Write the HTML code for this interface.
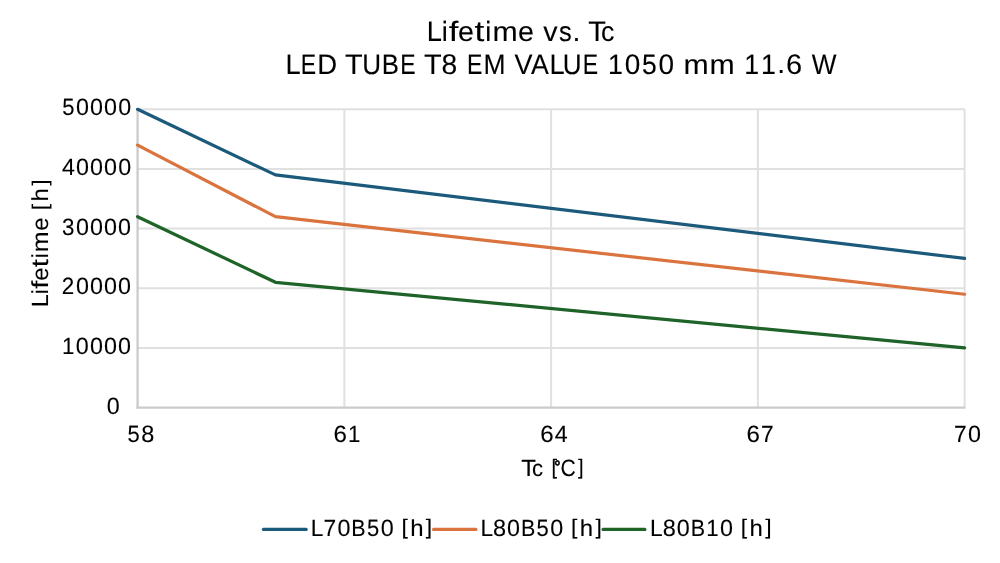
<!DOCTYPE html>
<html><head><meta charset="utf-8"><title>Lifetime vs. Tc</title><style>
html,body{margin:0;padding:0;background:#fff;overflow:hidden;}
svg{display:block;will-change:transform;}
text{font-family:"Liberation Sans", sans-serif;fill:#000;text-rendering:geometricPrecision;stroke:#000;stroke-width:0.1px;white-space:pre;}
</style></head><body>
<svg width="1000" height="563" viewBox="0 0 1000 563">
<rect width="1000" height="563" fill="#fff"/>
<g stroke="#e0e0e0" stroke-width="2.0" fill="none">
<line x1="137.6" y1="347.94" x2="964.64" y2="347.94"/>
<line x1="137.6" y1="288.28" x2="964.64" y2="288.28"/>
<line x1="137.6" y1="228.62" x2="964.64" y2="228.62"/>
<line x1="137.6" y1="168.96" x2="964.64" y2="168.96"/>
<line x1="137.6" y1="109.30" x2="964.64" y2="109.30"/>
<line x1="344.36" y1="109.30" x2="344.36" y2="407.6"/>
<line x1="551.12" y1="109.30" x2="551.12" y2="407.6"/>
<line x1="757.88" y1="109.30" x2="757.88" y2="407.6"/>
<line x1="964.64" y1="109.30" x2="964.64" y2="407.6"/>
</g>
<g stroke="#cbcbcb" stroke-width="2.3" fill="none">
<line x1="137.6" y1="109.30" x2="137.6" y2="408.6"/>
<line x1="136.6" y1="407.6" x2="965.44" y2="407.6"/>
</g>
<g fill="none" stroke-width="3.2" stroke-linejoin="round" stroke-linecap="round">
<polyline points="137.60,109.30 275.44,174.93 964.64,258.45" stroke="#1b5a7a"/>
<polyline points="137.60,145.10 275.44,216.69 964.64,294.25" stroke="#da733d"/>
<polyline points="137.60,216.69 275.44,282.31 964.64,347.94" stroke="#1e6327"/>
</g>
<g stroke-width="3.2" stroke-linecap="round">
<line x1="263.4" y1="529.4" x2="306.2" y2="529.4" stroke="#1b5a7a"/>
<line x1="433.6" y1="529.4" x2="475.9" y2="529.4" stroke="#da733d"/>
<line x1="603.1" y1="529.4" x2="644.9" y2="529.4" stroke="#1e6327"/>
</g>
<text stroke-width="0"><tspan x="426.73" y="41.00" font-size="28.13" textLength="15.20" lengthAdjust="spacingAndGlyphs">L</tspan><tspan x="441.84" y="41.00" font-size="27.83" textLength="6.03" lengthAdjust="spacingAndGlyphs">i</tspan><tspan x="448.66" y="41.00" font-size="27.87" textLength="9.69" lengthAdjust="spacingAndGlyphs">f</tspan><tspan x="458.14" y="41.09" font-size="27.81" textLength="15.93" lengthAdjust="spacingAndGlyphs">e</tspan><tspan x="474.40" y="40.77" font-size="28.50" textLength="9.83" lengthAdjust="spacingAndGlyphs">t</tspan><tspan x="485.31" y="41.00" font-size="27.83" textLength="6.03" lengthAdjust="spacingAndGlyphs">i</tspan><tspan x="492.43" y="41.00" font-size="27.64" textLength="25.18" lengthAdjust="spacingAndGlyphs">m</tspan><tspan x="518.13" y="41.09" font-size="27.81" textLength="15.93" lengthAdjust="spacingAndGlyphs">e</tspan><tspan> </tspan><tspan x="543.32" y="41.00" font-size="27.51" textLength="14.35" lengthAdjust="spacingAndGlyphs">v</tspan><tspan x="559.08" y="41.09" font-size="27.86" textLength="12.73" lengthAdjust="spacingAndGlyphs">s</tspan><tspan x="572.44" y="40.84" font-size="27.83" textLength="7.91" lengthAdjust="spacingAndGlyphs">.</tspan><tspan> </tspan><tspan x="588.35" y="41.00" font-size="28.13" textLength="17.68" lengthAdjust="spacingAndGlyphs">T</tspan><tspan x="601.12" y="41.09" font-size="27.81" textLength="13.31" lengthAdjust="spacingAndGlyphs">c</tspan></text>
<text stroke-width="0"><tspan x="285.58" y="73.50" font-size="28.13" textLength="15.20" lengthAdjust="spacingAndGlyphs">L</tspan><tspan x="300.73" y="73.50" font-size="28.13" textLength="15.36" lengthAdjust="spacingAndGlyphs">E</tspan><tspan x="317.14" y="73.50" font-size="28.13" textLength="19.85" lengthAdjust="spacingAndGlyphs">D</tspan><tspan> </tspan><tspan x="344.96" y="73.50" font-size="28.13" textLength="17.68" lengthAdjust="spacingAndGlyphs">T</tspan><tspan x="362.19" y="73.59" font-size="28.26" textLength="18.84" lengthAdjust="spacingAndGlyphs">U</tspan><tspan x="381.81" y="73.50" font-size="28.13" textLength="17.21" lengthAdjust="spacingAndGlyphs">B</tspan><tspan x="400.25" y="73.50" font-size="28.13" textLength="15.36" lengthAdjust="spacingAndGlyphs">E</tspan><tspan> </tspan><tspan x="424.04" y="73.50" font-size="28.13" textLength="17.68" lengthAdjust="spacingAndGlyphs">T</tspan><tspan x="441.56" y="73.59" font-size="28.35" textLength="15.71" lengthAdjust="spacingAndGlyphs">8</tspan><tspan> </tspan><tspan x="467.01" y="73.50" font-size="28.13" textLength="15.36" lengthAdjust="spacingAndGlyphs">E</tspan><tspan x="483.51" y="73.50" font-size="28.13" textLength="22.05" lengthAdjust="spacingAndGlyphs">M</tspan><tspan> </tspan><tspan x="514.50" y="73.50" font-size="28.13" textLength="18.01" lengthAdjust="spacingAndGlyphs">V</tspan><tspan x="531.05" y="73.50" font-size="28.13" textLength="17.84" lengthAdjust="spacingAndGlyphs">A</tspan><tspan x="549.41" y="73.50" font-size="28.13" textLength="15.20" lengthAdjust="spacingAndGlyphs">L</tspan><tspan x="562.82" y="73.59" font-size="28.26" textLength="18.84" lengthAdjust="spacingAndGlyphs">U</tspan><tspan x="582.67" y="73.50" font-size="28.13" textLength="15.36" lengthAdjust="spacingAndGlyphs">E</tspan><tspan> </tspan><tspan x="608.06" y="73.50" font-size="28.13" textLength="14.87" lengthAdjust="spacingAndGlyphs">1</tspan><tspan x="624.72" y="73.59" font-size="28.35" textLength="15.57" lengthAdjust="spacingAndGlyphs">0</tspan><tspan x="641.94" y="73.59" font-size="28.26" textLength="14.70" lengthAdjust="spacingAndGlyphs">5</tspan><tspan x="658.50" y="73.59" font-size="28.35" textLength="15.57" lengthAdjust="spacingAndGlyphs">0</tspan><tspan> </tspan><tspan x="683.60" y="73.50" font-size="27.64" textLength="25.18" lengthAdjust="spacingAndGlyphs">m</tspan><tspan x="709.46" y="73.50" font-size="27.64" textLength="25.18" lengthAdjust="spacingAndGlyphs">m</tspan><tspan> </tspan><tspan x="744.23" y="73.50" font-size="28.13" textLength="14.87" lengthAdjust="spacingAndGlyphs">1</tspan><tspan x="761.12" y="73.50" font-size="28.13" textLength="14.87" lengthAdjust="spacingAndGlyphs">1</tspan><tspan x="777.37" y="73.36" font-size="28.13" textLength="7.91" lengthAdjust="spacingAndGlyphs">.</tspan><tspan x="785.94" y="73.59" font-size="28.35" textLength="16.11" lengthAdjust="spacingAndGlyphs">6</tspan><tspan> </tspan><tspan x="811.64" y="73.50" font-size="28.13" textLength="24.74" lengthAdjust="spacingAndGlyphs">W</tspan></text>
<text><tspan x="62.20" y="115.27" font-size="23.52" textLength="12.24" lengthAdjust="spacingAndGlyphs">5</tspan><tspan x="75.99" y="115.27" font-size="23.60" textLength="12.96" lengthAdjust="spacingAndGlyphs">0</tspan><tspan x="90.05" y="115.27" font-size="23.60" textLength="12.96" lengthAdjust="spacingAndGlyphs">0</tspan><tspan x="104.11" y="115.27" font-size="23.60" textLength="12.96" lengthAdjust="spacingAndGlyphs">0</tspan><tspan x="118.17" y="115.27" font-size="23.60" textLength="12.96" lengthAdjust="spacingAndGlyphs">0</tspan></text>
<text><tspan x="61.94" y="174.86" font-size="23.42" textLength="12.95" lengthAdjust="spacingAndGlyphs">4</tspan><tspan x="76.00" y="174.93" font-size="23.60" textLength="12.96" lengthAdjust="spacingAndGlyphs">0</tspan><tspan x="90.06" y="174.93" font-size="23.60" textLength="12.96" lengthAdjust="spacingAndGlyphs">0</tspan><tspan x="104.12" y="174.93" font-size="23.60" textLength="12.96" lengthAdjust="spacingAndGlyphs">0</tspan><tspan x="118.18" y="174.93" font-size="23.60" textLength="12.96" lengthAdjust="spacingAndGlyphs">0</tspan></text>
<text><tspan x="62.12" y="234.59" font-size="23.60" textLength="12.45" lengthAdjust="spacingAndGlyphs">3</tspan><tspan x="75.90" y="234.59" font-size="23.60" textLength="12.96" lengthAdjust="spacingAndGlyphs">0</tspan><tspan x="89.96" y="234.59" font-size="23.60" textLength="12.96" lengthAdjust="spacingAndGlyphs">0</tspan><tspan x="104.02" y="234.59" font-size="23.60" textLength="12.96" lengthAdjust="spacingAndGlyphs">0</tspan><tspan x="118.08" y="234.59" font-size="23.60" textLength="12.96" lengthAdjust="spacingAndGlyphs">0</tspan></text>
<text><tspan x="61.81" y="294.18" font-size="23.49" textLength="12.48" lengthAdjust="spacingAndGlyphs">2</tspan><tspan x="75.93" y="294.25" font-size="23.60" textLength="12.96" lengthAdjust="spacingAndGlyphs">0</tspan><tspan x="89.99" y="294.25" font-size="23.60" textLength="12.96" lengthAdjust="spacingAndGlyphs">0</tspan><tspan x="104.06" y="294.25" font-size="23.60" textLength="12.96" lengthAdjust="spacingAndGlyphs">0</tspan><tspan x="118.12" y="294.25" font-size="23.60" textLength="12.96" lengthAdjust="spacingAndGlyphs">0</tspan></text>
<text><tspan x="61.95" y="353.84" font-size="23.42" textLength="12.38" lengthAdjust="spacingAndGlyphs">1</tspan><tspan x="75.83" y="353.91" font-size="23.60" textLength="12.96" lengthAdjust="spacingAndGlyphs">0</tspan><tspan x="89.89" y="353.91" font-size="23.60" textLength="12.96" lengthAdjust="spacingAndGlyphs">0</tspan><tspan x="103.95" y="353.91" font-size="23.60" textLength="12.96" lengthAdjust="spacingAndGlyphs">0</tspan><tspan x="118.01" y="353.91" font-size="23.60" textLength="12.96" lengthAdjust="spacingAndGlyphs">0</tspan></text>
<text><tspan x="106.72" y="413.57" font-size="23.60" textLength="12.96" lengthAdjust="spacingAndGlyphs">0</tspan></text>
<text><tspan x="127.51" y="442.17" font-size="23.52" textLength="12.24" lengthAdjust="spacingAndGlyphs">5</tspan><tspan x="141.24" y="442.17" font-size="23.60" textLength="13.08" lengthAdjust="spacingAndGlyphs">8</tspan></text>
<text><tspan x="333.40" y="442.17" font-size="23.60" textLength="13.41" lengthAdjust="spacingAndGlyphs">6</tspan><tspan x="347.89" y="442.10" font-size="23.42" textLength="12.38" lengthAdjust="spacingAndGlyphs">1</tspan></text>
<text><tspan x="540.35" y="442.17" font-size="23.60" textLength="13.41" lengthAdjust="spacingAndGlyphs">6</tspan><tspan x="554.65" y="442.10" font-size="23.42" textLength="12.95" lengthAdjust="spacingAndGlyphs">4</tspan></text>
<text><tspan x="746.57" y="442.17" font-size="23.60" textLength="13.41" lengthAdjust="spacingAndGlyphs">6</tspan><tspan x="760.97" y="442.10" font-size="23.42" textLength="12.67" lengthAdjust="spacingAndGlyphs">7</tspan></text>
<text><tspan x="953.92" y="442.10" font-size="23.42" textLength="12.67" lengthAdjust="spacingAndGlyphs">7</tspan><tspan x="967.88" y="442.17" font-size="23.60" textLength="12.96" lengthAdjust="spacingAndGlyphs">0</tspan></text>
<text><tspan x="521.32" y="475.70" font-size="23.42" textLength="14.72" lengthAdjust="spacingAndGlyphs">T</tspan><tspan x="531.95" y="475.78" font-size="23.15" textLength="11.08" lengthAdjust="spacingAndGlyphs">c</tspan><tspan> </tspan><tspan x="551.47" y="474.22" font-size="21.13" textLength="5.58" lengthAdjust="spacingAndGlyphs">[</tspan><tspan x="554.36" y="473.15" font-size="17.99" textLength="6.28" lengthAdjust="spacingAndGlyphs" stroke-width="0.7">°</tspan><tspan x="560.52" y="475.77" font-size="23.60" textLength="15.29" lengthAdjust="spacingAndGlyphs">C</tspan><tspan x="578.04" y="474.22" font-size="21.13" textLength="5.58" lengthAdjust="spacingAndGlyphs">]</tspan></text>
<text><tspan x="310.77" y="535.60" font-size="23.42" textLength="12.65" lengthAdjust="spacingAndGlyphs">L</tspan><tspan x="323.44" y="535.60" font-size="23.42" textLength="12.67" lengthAdjust="spacingAndGlyphs">7</tspan><tspan x="337.40" y="535.67" font-size="23.60" textLength="12.96" lengthAdjust="spacingAndGlyphs">0</tspan><tspan x="351.31" y="535.60" font-size="23.42" textLength="14.33" lengthAdjust="spacingAndGlyphs">B</tspan><tspan x="366.89" y="535.67" font-size="23.52" textLength="12.24" lengthAdjust="spacingAndGlyphs">5</tspan><tspan x="380.68" y="535.67" font-size="23.60" textLength="12.96" lengthAdjust="spacingAndGlyphs">0</tspan><tspan> </tspan><tspan x="401.48" y="534.12" font-size="21.13" textLength="6.39" lengthAdjust="spacingAndGlyphs">[</tspan><tspan x="410.19" y="535.60" font-size="23.17" textLength="13.34" lengthAdjust="spacingAndGlyphs">h</tspan><tspan x="425.80" y="534.12" font-size="21.13" textLength="6.39" lengthAdjust="spacingAndGlyphs">]</tspan></text>
<text><tspan x="480.42" y="535.60" font-size="23.42" textLength="12.65" lengthAdjust="spacingAndGlyphs">L</tspan><tspan x="492.93" y="535.67" font-size="23.60" textLength="13.08" lengthAdjust="spacingAndGlyphs">8</tspan><tspan x="507.05" y="535.67" font-size="23.60" textLength="12.96" lengthAdjust="spacingAndGlyphs">0</tspan><tspan x="520.96" y="535.60" font-size="23.42" textLength="14.33" lengthAdjust="spacingAndGlyphs">B</tspan><tspan x="536.54" y="535.67" font-size="23.52" textLength="12.24" lengthAdjust="spacingAndGlyphs">5</tspan><tspan x="550.33" y="535.67" font-size="23.60" textLength="12.96" lengthAdjust="spacingAndGlyphs">0</tspan><tspan> </tspan><tspan x="571.13" y="534.12" font-size="21.13" textLength="6.39" lengthAdjust="spacingAndGlyphs">[</tspan><tspan x="579.84" y="535.60" font-size="23.17" textLength="13.34" lengthAdjust="spacingAndGlyphs">h</tspan><tspan x="595.45" y="534.12" font-size="21.13" textLength="6.39" lengthAdjust="spacingAndGlyphs">]</tspan></text>
<text><tspan x="650.12" y="535.60" font-size="23.42" textLength="12.65" lengthAdjust="spacingAndGlyphs">L</tspan><tspan x="662.63" y="535.67" font-size="23.60" textLength="13.08" lengthAdjust="spacingAndGlyphs">8</tspan><tspan x="676.75" y="535.67" font-size="23.60" textLength="12.96" lengthAdjust="spacingAndGlyphs">0</tspan><tspan x="690.66" y="535.60" font-size="23.42" textLength="14.33" lengthAdjust="spacingAndGlyphs">B</tspan><tspan x="706.16" y="535.60" font-size="23.42" textLength="12.38" lengthAdjust="spacingAndGlyphs">1</tspan><tspan x="720.03" y="535.67" font-size="23.60" textLength="12.96" lengthAdjust="spacingAndGlyphs">0</tspan><tspan> </tspan><tspan x="740.83" y="534.12" font-size="21.13" textLength="6.39" lengthAdjust="spacingAndGlyphs">[</tspan><tspan x="749.54" y="535.60" font-size="23.17" textLength="13.34" lengthAdjust="spacingAndGlyphs">h</tspan><tspan x="765.15" y="534.12" font-size="21.13" textLength="6.39" lengthAdjust="spacingAndGlyphs">]</tspan></text>
<text transform="rotate(-90)"><tspan x="-306.95" y="48.30" font-size="23.42" textLength="12.65" lengthAdjust="spacingAndGlyphs">L</tspan><tspan x="-294.37" y="48.30" font-size="23.17" textLength="5.02" lengthAdjust="spacingAndGlyphs">i</tspan><tspan x="-288.69" y="48.30" font-size="23.20" textLength="8.06" lengthAdjust="spacingAndGlyphs">f</tspan><tspan x="-280.80" y="48.38" font-size="23.15" textLength="13.26" lengthAdjust="spacingAndGlyphs">e</tspan><tspan x="-267.26" y="48.11" font-size="23.72" textLength="8.18" lengthAdjust="spacingAndGlyphs">t</tspan><tspan x="-258.19" y="48.30" font-size="23.17" textLength="5.02" lengthAdjust="spacingAndGlyphs">i</tspan><tspan x="-252.26" y="48.30" font-size="23.00" textLength="20.96" lengthAdjust="spacingAndGlyphs">m</tspan><tspan x="-230.87" y="48.38" font-size="23.15" textLength="13.26" lengthAdjust="spacingAndGlyphs">e</tspan><tspan> </tspan><tspan x="-210.20" y="46.82" font-size="21.13" textLength="6.39" lengthAdjust="spacingAndGlyphs">[</tspan><tspan x="-201.49" y="48.30" font-size="23.17" textLength="13.34" lengthAdjust="spacingAndGlyphs">h</tspan><tspan x="-185.88" y="46.82" font-size="21.13" textLength="6.39" lengthAdjust="spacingAndGlyphs">]</tspan></text>
</svg>
</body></html>
